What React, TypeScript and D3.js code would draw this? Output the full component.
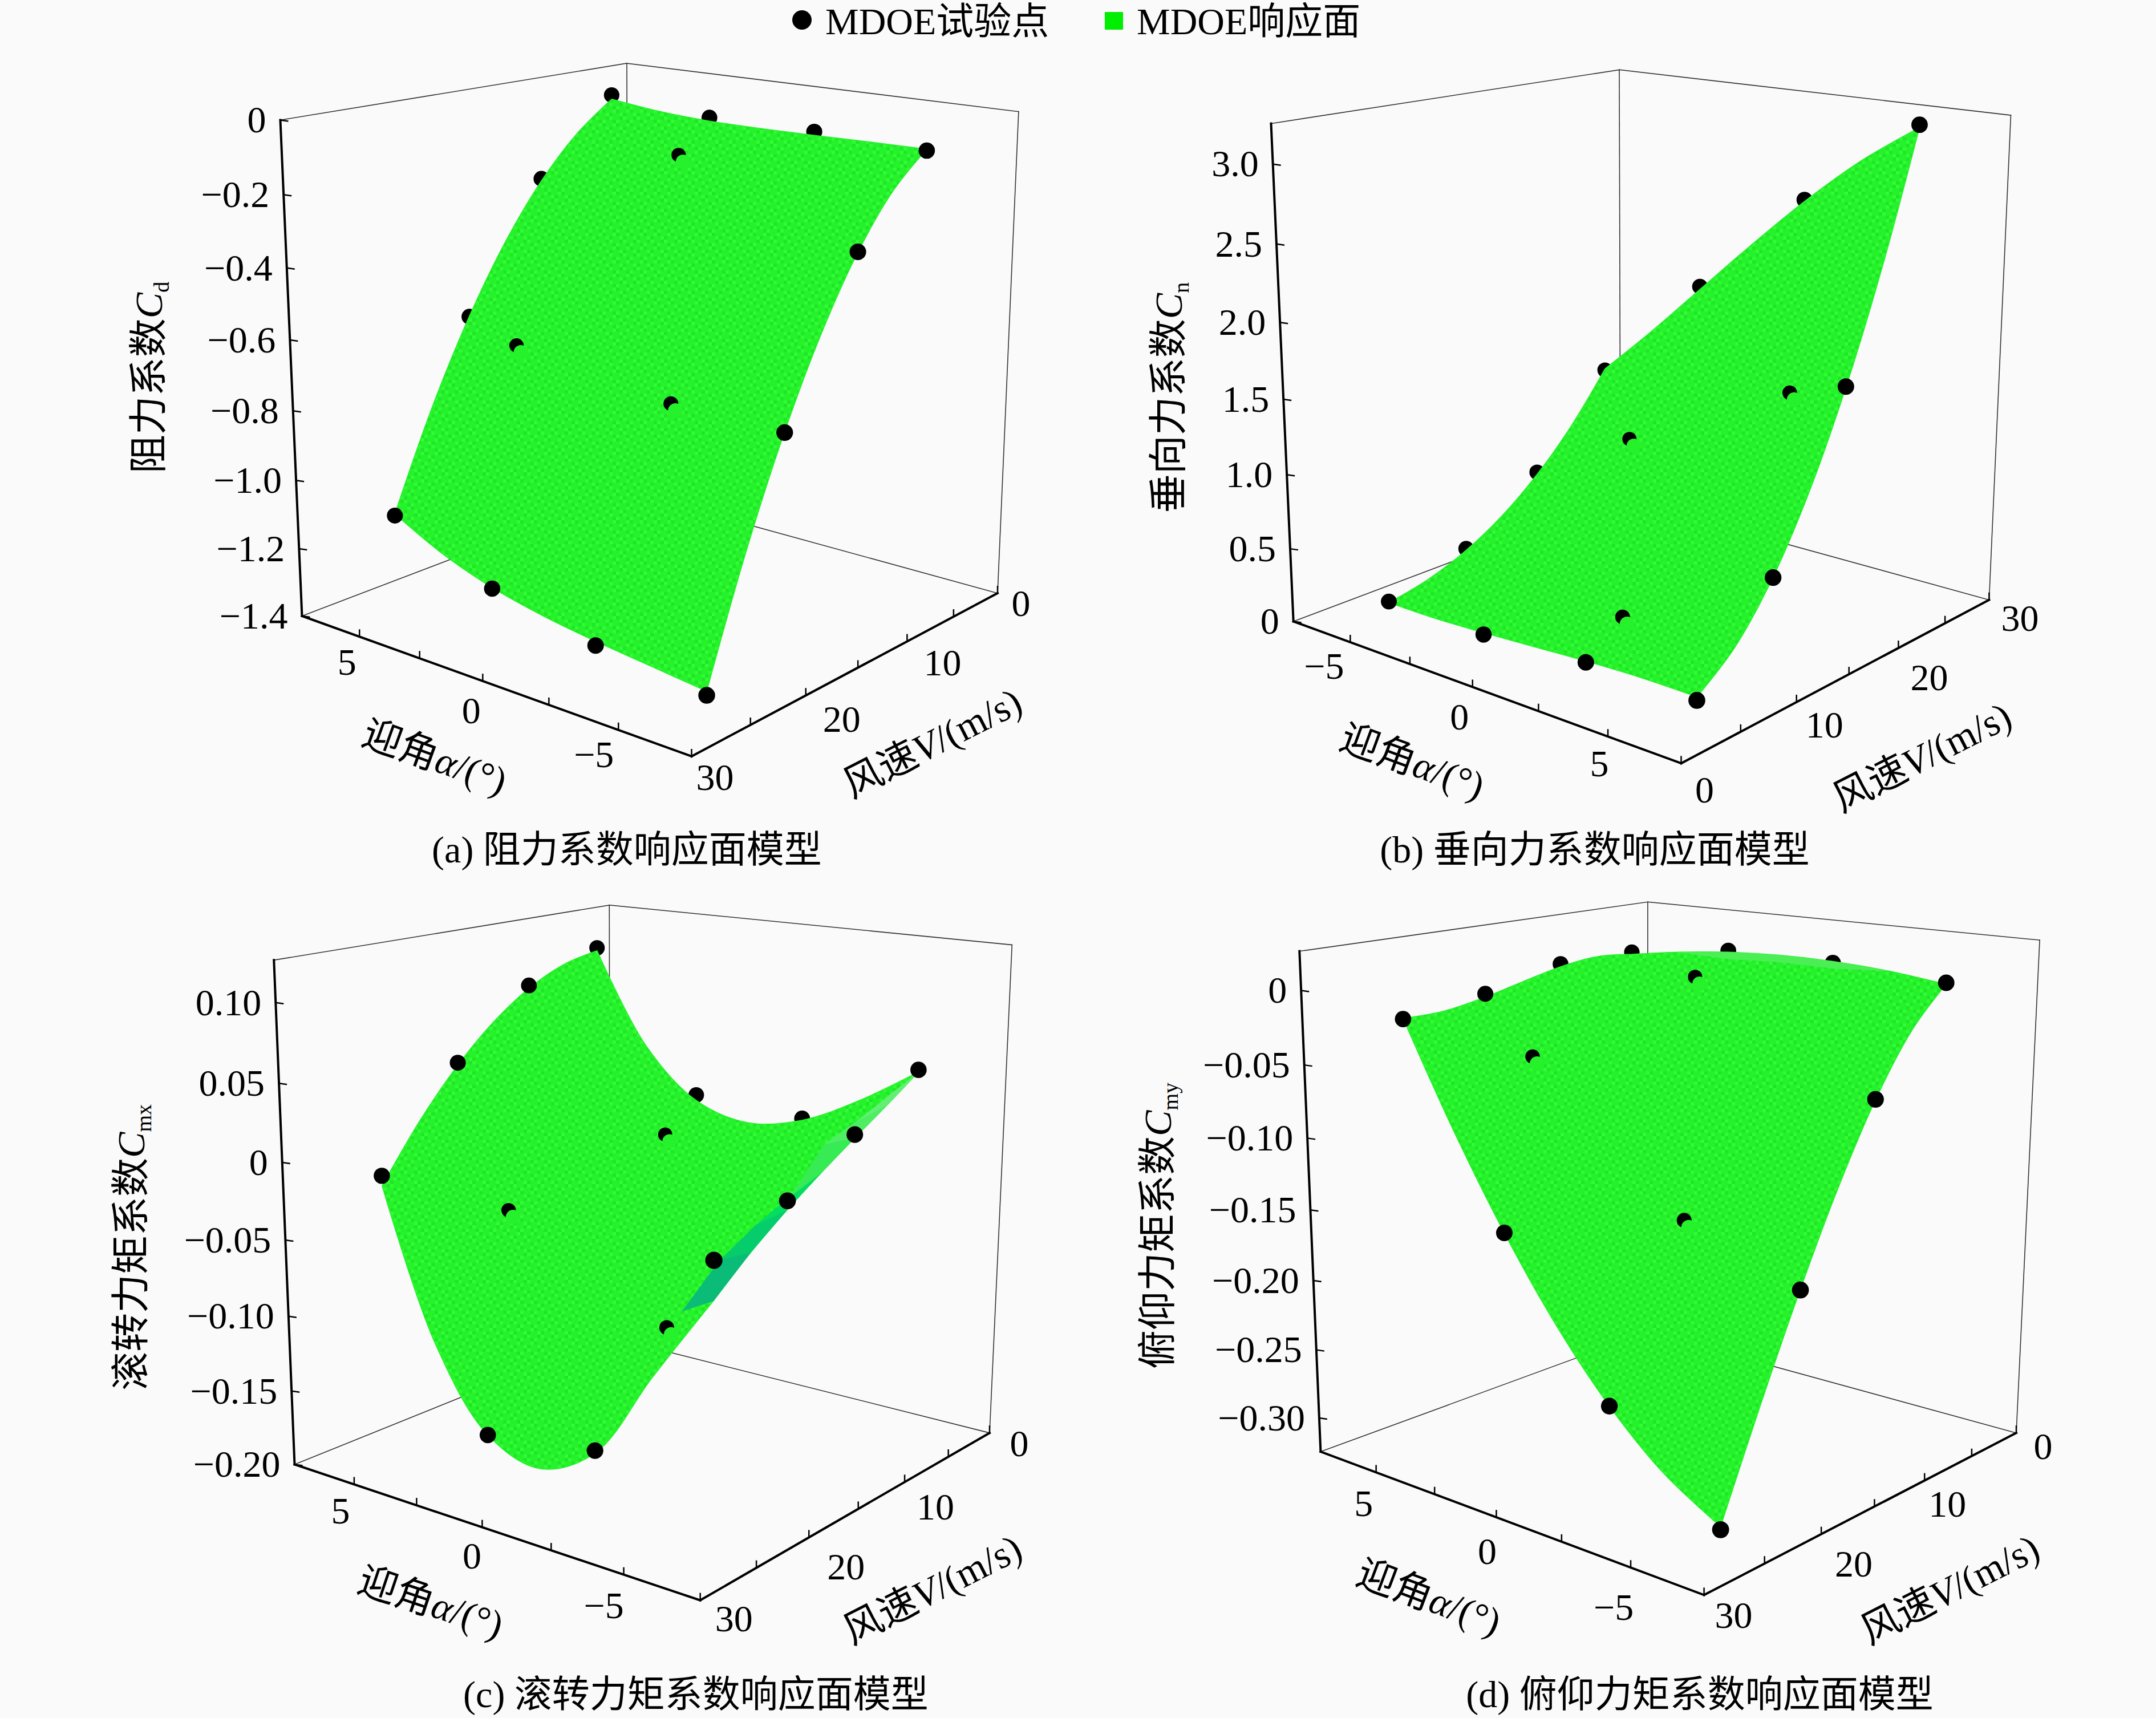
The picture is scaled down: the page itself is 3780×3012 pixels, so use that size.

import * as d3 from "d3"

const WIDTH = 3780
const HEIGHT = 3012
const GREEN = "#26f22c"
const SERIF = "'Liberation Serif','Noto Sans CJK SC',serif"

// Response surface grid levels
const surfaceAlpha = [6, 4, 2, 0, -2, -4, -6]
const surfaceSpeed = [5, 8.33, 11.67, 15, 18.33, 21.67, 25]

// Cd surface, rows by speed, columns by alpha
const cdSurface = [
  [-0.069, -0.086, -0.094, -0.095, -0.093, -0.09, -0.088],
  [-0.152, -0.174, -0.185, -0.188, -0.185, -0.181, -0.178],
  [-0.27, -0.3, -0.316, -0.322, -0.322, -0.319, -0.317],
  [-0.425, -0.465, -0.488, -0.499, -0.502, -0.502, -0.504],
  [-0.619, -0.669, -0.701, -0.719, -0.727, -0.732, -0.738],
  [-0.853, -0.915, -0.957, -0.982, -0.998, -1.008, -1.02],
  [-1.129, -1.204, -1.256, -1.29, -1.313, -1.331, -1.349],
]
const cdAlpha = [6, 6, 6, 6, 2, 2, -2, -2, -6, -6, -6, -6, 2, 4, -2]
const cdSpeed = [5, 11.7, 18.3, 25, 5, 25, 5, 25, 5, 11.7, 18.3, 25, 8, 18.4, 18.4]
const cdValue = [-0.057, -0.265, -0.619, -1.134, -0.084, -1.259, -0.083, -1.325, -0.092, -0.317, -0.738, -1.36, -0.174, -0.67, -0.732]
const cdTicks = [0, -0.2, -0.4, -0.6, -0.8, -1.0, -1.2, -1.4]

// Cn surface, rows by speed (high to low), columns by alpha (low to high)
const cnSurface = [
  [1.19, 1.539, 1.908, 2.277, 2.629, 2.944, 3.203],
  [0.852, 1.118, 1.403, 1.69, 1.961, 2.201, 2.392],
  [0.579, 0.77, 0.979, 1.191, 1.39, 1.563, 1.693],
  [0.367, 0.493, 0.635, 0.782, 0.918, 1.033, 1.112],
  [0.212, 0.283, 0.37, 0.461, 0.547, 0.615, 0.654],
  [0.108, 0.137, 0.181, 0.231, 0.277, 0.311, 0.323],
  [0.05, 0.051, 0.067, 0.089, 0.111, 0.125, 0.124],
]
const cnAlpha = [-6, -6, -6, -6, -2, -2, 2, 2, 6, 6, 6, 6, 1.9, 4, -2.2]
const cnSpeed = [25, 18.3, 11.7, 5, 25, 5, 25, 5, 25, 18.3, 11.7, 5, 8.4, 18.4, 18.6]
const cnValue = [1.181, 0.592, 0.224, 0.058, 1.928, 0.055, 2.64, 0.103, 3.221, 1.693, 0.654, 0.102, 0.28, 1.571, 0.993]
const cnTicks = [0, 0.5, 1.0, 1.5, 2.0, 2.5, 3.0]

// Cmx surface
const cmxSurface = [
  [0.1026, 0.0408, 0.0082, -0.0012, 0.0065, 0.0254, 0.0495],
  [0.0974, 0.0275, -0.0105, -0.0226, -0.0151, 0.0061, 0.0348],
  [0.086, 0.0092, -0.0331, -0.0468, -0.0383, -0.0137, 0.0208],
  [0.0685, -0.0144, -0.0598, -0.0742, -0.0638, -0.0348, 0.0064],
  [0.0448, -0.0432, -0.0911, -0.1052, -0.092, -0.054, -0.009],
  [0.015, -0.0774, -0.127, -0.1403, -0.1236, -0.078, -0.0263],
  [-0.021, -0.1173, -0.168, -0.1798, -0.1591, -0.1015, -0.0464],
]
const cmxAlpha = [6, 6, 6, 6, 2, 2, -2, -2, -6, -6, -6, -6, 2, 4, -2.2]
const cmxSpeed = [5, 11.7, 18.3, 25, 5, 25, 5, 25, 5, 11.7, 18.3, 25, 8.2, 18.4, 19]
const cmxValue = [0.1045, 0.0878, 0.0466, -0.0144, 0.0119, -0.168, 0.0076, -0.1574, 0.0509, 0.0228, -0.0035, -0.0226, -0.0092, -0.0451, -0.0959]
const cmxTicks = [0.1, 0.05, 0, -0.05, -0.1, -0.15, -0.2]
// strip of the Cmx surface seen at a grazing angle: alpha = -5 line next to the alpha = -6 edge
const cmxStripSpeed = [25, 21.67, 18.33, 15, 11.67, 8.33, 5]
const cmxStripEdge = [-0.0464, -0.0263, -0.009, 0.0064, 0.0208, 0.0348, 0.0495]
const cmxStripInner = [-0.0566, -0.0349, -0.0216, -0.0116, 0.0137, 0.0214, 0.0495]

// Cmy surface
const cmySurface = [
  [-0.0052, 0.0006, 0.0047, 0.0067, 0.0066, 0.0044, -0.0001],
  [-0.0026, -0.006, -0.0096, -0.0135, -0.0175, -0.0217, -0.0257],
  [-0.0055, -0.0195, -0.0322, -0.0434, -0.0528, -0.0602, -0.0652],
  [-0.0115, -0.0374, -0.0606, -0.0804, -0.0966, -0.1086, -0.116],
  [-0.018, -0.0573, -0.0922, -0.1221, -0.1464, -0.1644, -0.1755],
  [-0.0225, -0.0765, -0.1246, -0.1659, -0.1997, -0.2251, -0.2412],
  [-0.0226, -0.0927, -0.1553, -0.2094, -0.2539, -0.288, -0.3106],
]
const cmyAlpha = [6, 6, 6, 6, 2, 2, -2, -2, -6, -6, -6, -6, 2, 4.1, -1.9]
const cmySpeed = [5, 11.7, 18.3, 25, 5, 25, 5, 25, 5, 11.7, 18.3, 25, 8.2, 18.2, 18.4]
const cmyValue = [-0.0036, -0.0036, -0.0157, -0.023, 0.0058, -0.1553, 0.0055, -0.2539, 0.0009, -0.0652, -0.1755, -0.3127, -0.0088, -0.055, -0.1466]
const cmyTicks = [0, -0.05, -0.1, -0.15, -0.2, -0.25, -0.3]
// lighter crest along the low speed edge of the Cmy surface
const cmyCrestAlpha = [4, 2, 0, -2, -4, -2, 0, 2]
const cmyCrestValue = [0.0006, 0.0047, 0.0067, 0.0066, 0.0044, 0.0018, 0.0019, -0.0001]

const alphaTicks = [5, 2.5, 0, -2.5, -5]
const alphaLabels = [5, 0, -5]
const speedTicks = [0, 5, 10, 15, 20, 25, 30]
const speedLabels = [0, 10, 20, 30]

const minus = (s: string) => s.replace("-", "\u2212")

type Pt = [number, number]
type Box = { B: Pt; L: Pt; R: Pt; F: Pt; T: Pt; TL: Pt; TR: Pt }
type Shade = { alpha: number[]; speed: number[]; value: number[]; fill: string }

// perspective box: homogeneous weights solved from the visible corners
function makeCamera(c: Box) {
  const e1 = [c.L[0] - c.F[0], c.L[1] - c.F[1]]
  const e2 = [c.R[0] - c.F[0], c.R[1] - c.F[1]]
  const e3 = [c.B[0] - c.F[0], c.B[1] - c.F[1]]
  const det = e1[0] * e2[1] - e2[0] * e1[1]
  const hL = (e3[0] * e2[1] - e2[0] * e3[1]) / det
  const hR = (e1[0] * e3[1] - e3[0] * e1[1]) / det
  let num = 0
  let den = 0
  const pairs: [Pt, number, Pt][] = [
    [c.TL, hL, c.L],
    [c.TR, hR, c.R],
  ]
  pairs.forEach(([Q, h, A]) => {
    const a = [c.T[0] - Q[0], c.T[1] - Q[1]]
    const b = [c.B[0] - Q[0] - h * (A[0] - Q[0]), c.B[1] - Q[1] - h * (A[1] - Q[1])]
    num += a[0] * b[0] + a[1] * b[1]
    den += a[0] * a[0] + a[1] * a[1]
  })
  const hT = num / den
  return (u: number, v: number, w: number) => {
    const d = 1 + u * (hL - 1) + v * (hR - 1) + w * (hT - 1)
    const x = c.B[0] + u * (hL * c.L[0] - c.B[0]) + v * (hR * c.R[0] - c.B[0]) + w * (hT * c.T[0] - c.B[0])
    const y = c.B[1] + u * (hL * c.L[1] - c.B[1]) + v * (hR * c.R[1] - c.B[1]) + w * (hT * c.T[1] - c.B[1])
    return { x: x / d, y: y / d, d }
  }
}

// colour along the grazing strip, from the far end to the near end
const stripColor = d3.scaleLinear<string>().domain([5, 13, 17, 25]).range(["#6cf07c", "#3cec54", "#00dc62", "#0cb47c"])

const cmxShades: Shade[] = cmxStripSpeed.slice(1).map((_, i) => {
  const a = cmxStripSpeed[i]
  const b = cmxStripSpeed[i + 1]
  const inner = (k: number) => (k === cmxStripSpeed.length - 1 ? -6 : -5)
  return {
    alpha: [-6, -6, inner(i + 1), inner(i)],
    speed: [a, b, b, a],
    value: [cmxStripEdge[i], cmxStripEdge[i + 1], cmxStripInner[i + 1], cmxStripInner[i]],
    fill: stripColor((a + b) / 2),
  }
})
const cmyShades: Shade[] = [
  { alpha: cmyCrestAlpha, speed: cmyCrestAlpha.map(() => 5), value: cmyCrestValue, fill: "#4cee56" },
]

const panels = [
  {
    id: "a",
    caption: "(a) 阻力系数响应面模型",
    captionPos: [1099, 1490],
    yTitle: "阻力系数",
    ySub: "d",
    yTitlePos: [262, 662],
    alphaTitlePos: [762, 1328],
    speedTitlePos: [1635, 1303],
    box: { B: [1101, 862], L: [529.5, 1080], R: [1749, 1040], F: [1212.5, 1326], T: [1099, 111], TL: [492.6, 209], TR: [1787, 196] } as Box,
    alphaDomain: [7.5, -7.5],
    speedDomain: [0, 30],
    valueDomain: [-1.4, 0],
    surfaceSpeed,
    surfaceAlpha,
    surface: cdSurface,
    alpha: cdAlpha,
    speed: cdSpeed,
    value: cdValue,
    ticks: cdTicks,
    digits: 1,
    behind: [0, 1, 2, 4, 6],
    alphaOffset: [[-22, 45], [-20, 52], [-43, 43]],
    speedOffset: [[41, 18], [62, 38], [63, 42], [41, 37]],
    shades: [] as Shade[],
  },
  {
    id: "b",
    caption: "(b) 垂向力系数响应面模型",
    captionPos: [2796, 1490],
    yTitle: "垂向力系数",
    ySub: "n",
    yTitlePos: [2050, 697],
    alphaTitlePos: [2476, 1336],
    speedTitlePos: [3370, 1328],
    box: { B: [2841, 873.6], L: [2267.7, 1089.5], R: [3487.4, 1051.7], F: [2947.5, 1338.3], T: [2839, 122.4], TL: [2229.7, 220.9], TR: [3525.3, 207] } as Box,
    alphaDomain: [-7.5, 7.5],
    speedDomain: [30, 0],
    valueDomain: [0, 3.25],
    surfaceSpeed: [...surfaceSpeed].reverse(),
    surfaceAlpha: [...surfaceAlpha].reverse(),
    surface: cnSurface,
    alpha: cnAlpha,
    speed: cnSpeed,
    value: cnValue,
    ticks: cnTicks,
    digits: 1,
    behind: [0, 1, 2, 4, 6],
    alphaOffset: [[-46, 42], [-23, 53], [-15, 48]],
    speedOffset: [[41, 47], [49, 40], [54, 52], [54, 33]],
    shades: [] as Shade[],
  },
  {
    id: "c",
    caption: "(c) 滚转力矩系数响应面模型",
    captionPos: [1220, 2971],
    yTitle: "滚转力矩系数",
    ySub: "mx",
    yTitlePos: [231, 2187],
    alphaTitlePos: [755, 2810],
    speedTitlePos: [1635, 2787],
    box: { B: [1069.4, 2344.4], L: [516.5, 2567.5], R: [1735, 2512.2], F: [1227.7, 2805.6], T: [1068.3, 1586.9], TL: [480.7, 1687.2], TR: [1773, 1666.6] } as Box,
    alphaDomain: [7.5, -7.5],
    speedDomain: [0, 30],
    valueDomain: [-0.2, 0.126],
    surfaceSpeed,
    surfaceAlpha,
    surface: cmxSurface,
    alpha: cmxAlpha,
    speed: cmxSpeed,
    value: cmxValue,
    ticks: cmxTicks,
    digits: 2,
    behind: [0, 4, 6],
    alphaOffset: [[-24, 47], [-18, 51], [-35, 55]],
    speedOffset: [[52, 19], [54, 44], [65, 52], [59, 33]],
    shades: cmxShades,
  },
  {
    id: "d",
    caption: "(d) 俯仰力矩系数响应面模型",
    captionPos: [2980, 2971],
    yTitle: "俯仰力矩系数",
    ySub: "my",
    yTitlePos: [2031, 2149],
    alphaTitlePos: [2505, 2801],
    speedTitlePos: [3419, 2787],
    box: { B: [2888.9, 2335], L: [2315.4, 2545], R: [3535, 2512.2], F: [2987.6, 2796.3], T: [2888.9, 1581.3], TL: [2278.5, 1677.8], TR: [3573, 1663.8] } as Box,
    alphaDomain: [7.5, -7.5],
    speedDomain: [0, 30],
    valueDomain: [-0.325, 0.026],
    surfaceSpeed,
    surfaceAlpha,
    surface: cmySurface,
    alpha: cmyAlpha,
    speed: cmySpeed,
    value: cmyValue,
    ticks: cmyTicks,
    digits: 2,
    behind: [0, 1, 4, 6],
    alphaOffset: [[-22, 55], [-16, 60], [-30, 70]],
    speedOffset: [[47, 24], [40, 42], [57, 53], [52, 36]],
    shades: cmyShades,
  },
]

function Panel({ p }: { p: (typeof panels)[number] }) {
  const cam = makeCamera(p.box)
  const u = d3.scaleLinear().domain(p.speedDomain).range([0, 1])
  const v = d3.scaleLinear().domain(p.alphaDomain).range([0, 1])
  const w = d3.scaleLinear().domain(p.valueDomain).range([0, 1])
  const at = (alpha: number, speed: number, value: number) => cam(u(speed), v(alpha), w(value))

  const corner = {
    B: cam(0, 0, 0),
    L: cam(1, 0, 0),
    R: cam(0, 1, 0),
    F: cam(1, 1, 0),
    T: cam(0, 0, 1),
    TL: cam(1, 0, 1),
    TR: cam(0, 1, 1),
  }
  const seg = (a: { x: number; y: number }, b: { x: number; y: number }, width: number, key: string) => (
    <line key={key} x1={a.x} y1={a.y} x2={b.x} y2={b.y} stroke={width > 2 ? "#000" : "#333"} strokeWidth={width} strokeLinecap="square" />
  )

  // surface outline on screen
  const nodes = p.surface.map((row, j) => row.map((val, i) => at(p.surfaceAlpha[i], p.surfaceSpeed[j], val)))
  const n = nodes.length - 1
  const curve = d3
    .line<{ x: number; y: number }>()
    .x((d) => d.x)
    .y((d) => d.y)
    .curve(d3.curveCatmullRom)
  const outline = [
    nodes[0],
    nodes.map((row) => row[n]),
    [...nodes[n]].reverse(),
    nodes.map((row) => row[0]).reverse(),
  ]
    .map((edge, i) => (i === 0 ? curve(edge) : (curve(edge) || "").replace("M", "L")))
    .join("")

  const shadePath = d3
    .line<{ x: number; y: number }>()
    .x((d) => d.x)
    .y((d) => d.y)
    .curve(d3.curveLinearClosed)

  const dots = p.value.map((val, i) => {
    const s = at(p.alpha[i], p.speed[i], val)
    return { ...s, r: 13 / Math.sqrt(s.d), i }
  })
  const behind = dots.filter((o) => p.behind.includes(o.i))
  const bitten = dots.filter((o) => o.i >= 12)
  const front = dots.filter((o) => !p.behind.includes(o.i) && o.i < 12)

  const fmt = (t: number) => (t === 0 ? "0" : minus(t.toFixed(p.digits)))

  const alphaAngle = (Math.atan2(corner.F.y - corner.L.y, corner.F.x - corner.L.x) * 180) / Math.PI
  const speedAngle = -27

  return (
    <g>
      {/* far side of the box */}
      {seg(corner.B, corner.L, 1.6, "bl")}
      {seg(corner.B, corner.R, 1.6, "br")}
      {seg(corner.B, corner.T, 1.6, "bt")}
      {seg(corner.T, corner.TL, 1.6, "ttl")}
      {seg(corner.T, corner.TR, 1.6, "ttr")}
      {seg(corner.TR, corner.R, 1.6, "trr")}

      {behind.map((o) => (
        <circle key={o.i} cx={o.x} cy={o.y} r={o.r} fill="#000" />
      ))}

      <path d={outline} fill="url(#surfaceTexture)" stroke={GREEN} strokeWidth={1.5} />
      {p.shades.map((s, i) => (
        <path
          key={i}
          d={shadePath(s.value.map((val, k) => at(s.alpha[k], s.speed[k], val))) || ""}
          fill={s.fill}
          stroke={s.fill}
          strokeWidth={1}
        />
      ))}

      {front.map((o) => (
        <circle key={o.i} cx={o.x} cy={o.y} r={o.r} fill="#000" />
      ))}
      {bitten.map((o) => (
        <g key={o.i}>
          <circle cx={o.x} cy={o.y} r={o.r * 0.9} fill="#000" />
          <circle cx={o.x + o.r * 0.55} cy={o.y + o.r * 0.85} r={o.r * 0.9} fill={GREEN} />
        </g>
      ))}

      {/* axes in front */}
      {seg(corner.TL, corner.L, 4, "z")}
      {seg(corner.L, corner.F, 4, "al")}
      {seg(corner.F, corner.R, 4, "sp")}

      {p.ticks.map((t) => {
        const o = cam(1, 0, w(t))
        return (
          <g key={t}>
            <line x1={o.x} y1={o.y} x2={o.x + 14} y2={o.y + 2} stroke="#000" strokeWidth={2.5} />
            <text x={o.x - 25} y={o.y} dy="0.33em" textAnchor="end" fontSize={66} fontFamily={SERIF}>
              {fmt(t)}
            </text>
          </g>
        )
      })}
      {alphaTicks.map((t) => {
        const o = cam(1, v(t), 0)
        return <line key={t} x1={o.x} y1={o.y} x2={o.x} y2={o.y - 13} stroke="#000" strokeWidth={2.5} />
      })}
      {speedTicks.map((t) => {
        const o = cam(u(t), 1, 0)
        return <line key={t} x1={o.x} y1={o.y} x2={o.x} y2={o.y - 13} stroke="#000" strokeWidth={2.5} />
      })}
      {(p.id === "b" ? [...alphaLabels].reverse() : alphaLabels).map((t, i) => {
        const o = cam(1, v(t), 0)
        return (
          <text key={t} x={o.x + p.alphaOffset[i][0]} y={o.y + p.alphaOffset[i][1]} dy="0.33em" textAnchor="middle" fontSize={66} fontFamily={SERIF}>
            {minus(String(t))}
          </text>
        )
      })}
      {speedLabels.map((t, i) => {
        const o = cam(u(t), 1, 0)
        return (
          <text key={t} x={o.x + p.speedOffset[i][0]} y={o.y + p.speedOffset[i][1]} dy="0.33em" textAnchor="middle" fontSize={66} fontFamily={SERIF}>
            {t}
          </text>
        )
      })}

      {/* axis titles */}
      <text transform={`translate(${p.yTitlePos[0]},${p.yTitlePos[1]}) rotate(-90)`} dy="0.33em" textAnchor="middle" fontSize={68} fontFamily={SERIF}>
        {p.yTitle}
        <tspan fontStyle="italic">C</tspan>
        <tspan fontSize={38} dy={12}>
          {p.ySub}
        </tspan>
      </text>
      <text transform={`translate(${p.alphaTitlePos[0]},${p.alphaTitlePos[1]}) rotate(${alphaAngle})`} dy="0.33em" textAnchor="middle" fontSize={68} fontFamily={SERIF}>
        迎角<tspan fontStyle="italic">α</tspan>/(°)
      </text>
      <text transform={`translate(${p.speedTitlePos[0]},${p.speedTitlePos[1]}) rotate(${speedAngle})`} dy="0.33em" textAnchor="middle" fontSize={68} fontFamily={SERIF}>
        风速<tspan fontStyle="italic">V</tspan>/(m/s)
      </text>

      <text x={p.captionPos[0]} y={p.captionPos[1]} dy="0.33em" textAnchor="middle" fontSize={66} fontFamily={SERIF}>
        {p.caption}
      </text>
    </g>
  )
}

export default function App() {
  return (
    <svg width={WIDTH} height={HEIGHT} style={{ position: "absolute", left: 0, top: 0, background: "#fafafa" }}>
      <defs>
        <pattern id="surfaceTexture" width={24} height={24} patternUnits="userSpaceOnUse">
          <rect width={24} height={24} fill={GREEN} />
          <rect x={0} y={0} width={6} height={6} fill="#1fe626" />
          <rect x={12} y={6} width={6} height={6} fill="#1fe626" />
          <rect x={6} y={12} width={6} height={6} fill="#1fe626" />
          <rect x={18} y={18} width={6} height={6} fill="#1fe626" />
          <rect x={18} y={0} width={6} height={6} fill="#30fc36" />
          <rect x={6} y={6} width={6} height={6} fill="#30fc36" />
          <rect x={0} y={18} width={6} height={6} fill="#30fc36" />
          <rect x={12} y={12} width={6} height={6} fill="#30fc36" />
        </pattern>
      </defs>

      <circle cx={1406} cy={35} r={17} fill="#000" />
      <text x={1447} y={60} fontSize={66} fontFamily={SERIF}>
        MDOE试验点
      </text>
      <rect x={1937} y={21} width={32} height={31} fill="#00ee00" />
      <text x={1993} y={60} fontSize={66} fontFamily={SERIF}>
        MDOE响应面
      </text>

      {panels.map((p) => (
        <Panel key={p.id} p={p} />
      ))}
    </svg>
  )
}
